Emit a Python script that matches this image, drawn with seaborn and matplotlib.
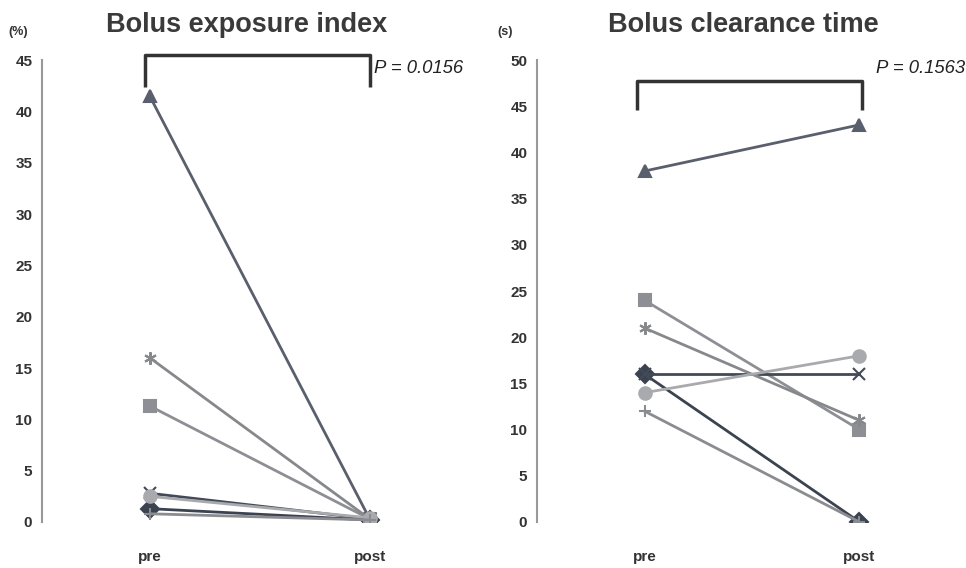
import pandas as pd
import matplotlib.pyplot as plt
import seaborn as sns

sns.set_style("white")
plt.rcParams['font.family'] = ['Liberation Sans', 'DejaVu Sans']

# time points
timepoints = ["pre", "post"]
patients = ["P1", "P2", "P3", "P4", "P5", "P6", "P7"]

# bolus exposure index (%), pre / post for each patient
bei_pre = [1.3, 11.3, 41.5, 2.8, 16.0, 2.5, 0.8]
bei_post = [0.2, 0.3, 0.3, 0.3, 0.3, 0.4, 0.2]

# bolus clearance time (s), pre / post
bct_pre = [16, 24, 38, 16, 21, 14, 12]
bct_post = [0, 10, 43, 16, 11, 18, 0]

p_values = ["P = 0.0156", "P = 0.1563"]

markers = dict(zip(patients, ["D", "s", "^", "x", (6, 2, 0), "o", "+"]))
palette = dict(zip(patients, ["#3b4250", "#8e8f94", "#5a5f6d", "#424a58",
                              "#86888c", "#a9aaad", "#8a8c90"]))


def long_form(pre, post):
    rows = []
    for pid, a, b in zip(patients, pre, post):
        rows.append({"patient": pid, "time": 0, "value": a})
        rows.append({"patient": pid, "time": 1, "value": b})
    return pd.DataFrame(rows)


fig = plt.figure(figsize=(9.66, 5.68), dpi=100)
ax1 = fig.add_axes([0.0435, 0.081, 0.453, 0.813])
ax2 = fig.add_axes([0.556, 0.081, 0.445, 0.813])

# ax, data, title, unit, ymax, xlim, bracket x, bracket y, p-text pos, title x, unit x
panels = [
    (ax1, long_form(bei_pre, bei_post), "Bolus exposure index", "(%)", 45,
     (-0.49, 1.5), (-0.02, 1.0), (45.5, 42.4), (1.02, 44.2), 0.468, -0.055),
    (ax2, long_form(bct_pre, bct_post), "Bolus clearance time", "(s)", 50,
     (-0.5, 1.5), (-0.037, 1.01), (47.8, 44.6), (1.075, 49.1), 0.479, -0.074),
]

for i, (ax, df, title, unit, ymax, xlim, bx, by, ptxt, tx, ux) in enumerate(panels):
    for pid in patients:
        sub = df[df["patient"] == pid]
        sns.lineplot(data=sub, x="time", y="value", color=palette[pid],
                     marker=markers[pid], linewidth=2, markersize=9,
                     markeredgewidth=1.5, markeredgecolor=palette[pid], ax=ax)
    ax.set_ylim(0, ymax)
    ax.set_xlim(*xlim)
    ax.set_yticks(range(0, ymax + 1, 5))
    ax.set_xticks([0, 1])
    ax.set_xticklabels(timepoints)
    ax.tick_params(axis="y", length=0, pad=7, labelsize=11, colors="#333333")
    ax.tick_params(axis="x", length=0, pad=20, labelsize=11, colors="#333333")
    for lab in ax.get_yticklabels() + ax.get_xticklabels():
        lab.set_fontweight("bold")
    ax.set_xlabel("")
    ax.set_ylabel("")
    for side in ["top", "right", "bottom"]:
        ax.spines[side].set_visible(False)
    ax.spines["left"].set_color("#999999")
    ax.spines["left"].set_linewidth(1.5)
    ax.set_title(title, fontsize=19.5, fontweight="bold", color="#3a3a3a",
                 x=tx, pad=20)
    ax.text(ux, 1.061, unit, transform=ax.transAxes, fontsize=9,
            fontweight="bold", color="#333333", ha="center", va="center")

    # significance bracket
    ax.plot([bx[0], bx[0], bx[1], bx[1]], [by[1], by[0], by[0], by[1]],
            color="#333333", linewidth=2.5, clip_on=False, solid_capstyle="butt")
    ax.text(ptxt[0], ptxt[1], p_values[i], fontsize=13.3, style="italic",
            color="#222222", va="center", ha="left", clip_on=False)

fig.savefig("out.png", dpi=100)
